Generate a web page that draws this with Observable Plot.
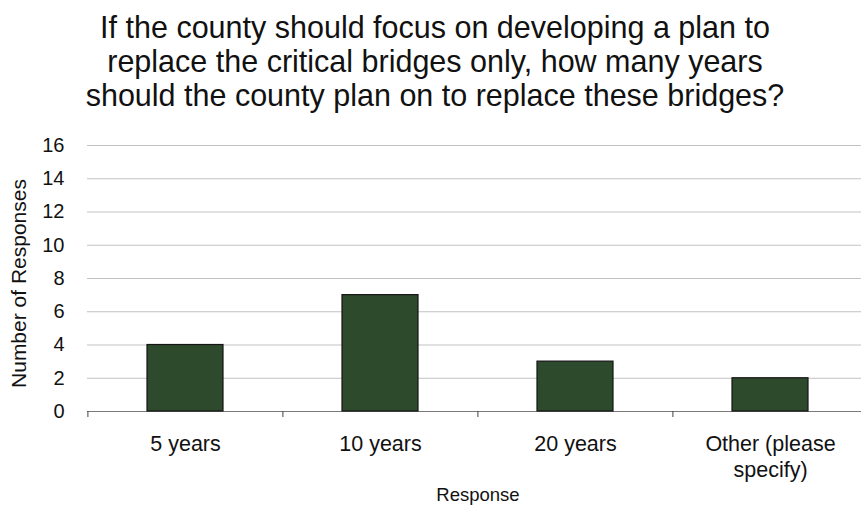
<!DOCTYPE html>
<html><head><meta charset="utf-8">
<script src="https://cdn.jsdelivr.net/npm/d3@7"></script>
<script src="https://cdn.jsdelivr.net/npm/@observablehq/plot@0.6"></script>
<style>
body{margin:0;background:#fff;font-family:"Liberation Sans",Arial,sans-serif}
#title{width:861px;height:135px;box-sizing:border-box;padding-top:10px;padding-left:9px;text-align:center;font-size:30.5px;line-height:34px;color:#111;white-space:nowrap}
</style></head>
<body>
<div id="title">If the county should focus on developing a plan to<br>replace the critical bridges only, how many years<br>should the county plan on to replace these bridges?</div>
<div id="chart"></div>
<script>
const categories = ["5 years", "10 years", "20 years", "Other (please specify)"];
const responses = [4, 7, 3, 2];
const yTicks = [0, 2, 4, 6, 8, 10, 12, 14, 16];
const tickLabels = ["5 years", "10 years", "20 years", "Other (please\nspecify)"];
const xTitle = "Response";
const yTitle = "Number of Responses";

const data = categories.map((c, i) => ({category: c, count: responses[i]}));
const labelOf = new Map(categories.map((c, i) => [c, tickLabels[i]]));

const chart = Plot.plot({
  width: 861,
  height: 373,
  marginLeft: 87,
  marginRight: -7,
  marginTop: 10,
  marginBottom: 97,
  style: {fontFamily: '"Liberation Sans", Arial, sans-serif', background: "#fff", color: "#111"},
  x: {domain: categories, paddingInner: 0.61, paddingOuter: 0.305},
  y: {domain: [0, 16]},
  marks: [
    Plot.gridY(yTicks, {stroke: "#c2c2c2", strokeOpacity: 1, strokeWidth: 1}),
    Plot.ruleY([0], {stroke: "#7a7a7a", strokeWidth: 1.2}),
    Plot.barY(data, {x: "category", y: "count", fill: "#2e4a2c", stroke: "#151515", strokeWidth: 1.2}),
    Plot.axisY(yTicks, {tickSize: 0, tickPadding: 23, fontSize: 20, fill: "#111", label: null}),
    Plot.axisX({tickSize: 6, text: null, dx: -97.6, label: null, stroke: "#444"}),
    Plot.axisX({tickSize: 0, tickPadding: 21, fontSize: 21.5, lineHeight: 1.21, fill: "#111", tickFormat: d => labelOf.get(d), label: null}),
    Plot.text([xTitle], {frameAnchor: "bottom", lineAnchor: "middle", dy: 84, fontSize: 18.5, fill: "#111"}),
    Plot.text([yTitle], {frameAnchor: "left", textAnchor: "middle", lineAnchor: "middle", rotate: -90, dx: -68.5, dy: 5, fontSize: 21, fill: "#111"})
  ]
});
document.getElementById("chart").appendChild(chart);
</script>
</body></html>
